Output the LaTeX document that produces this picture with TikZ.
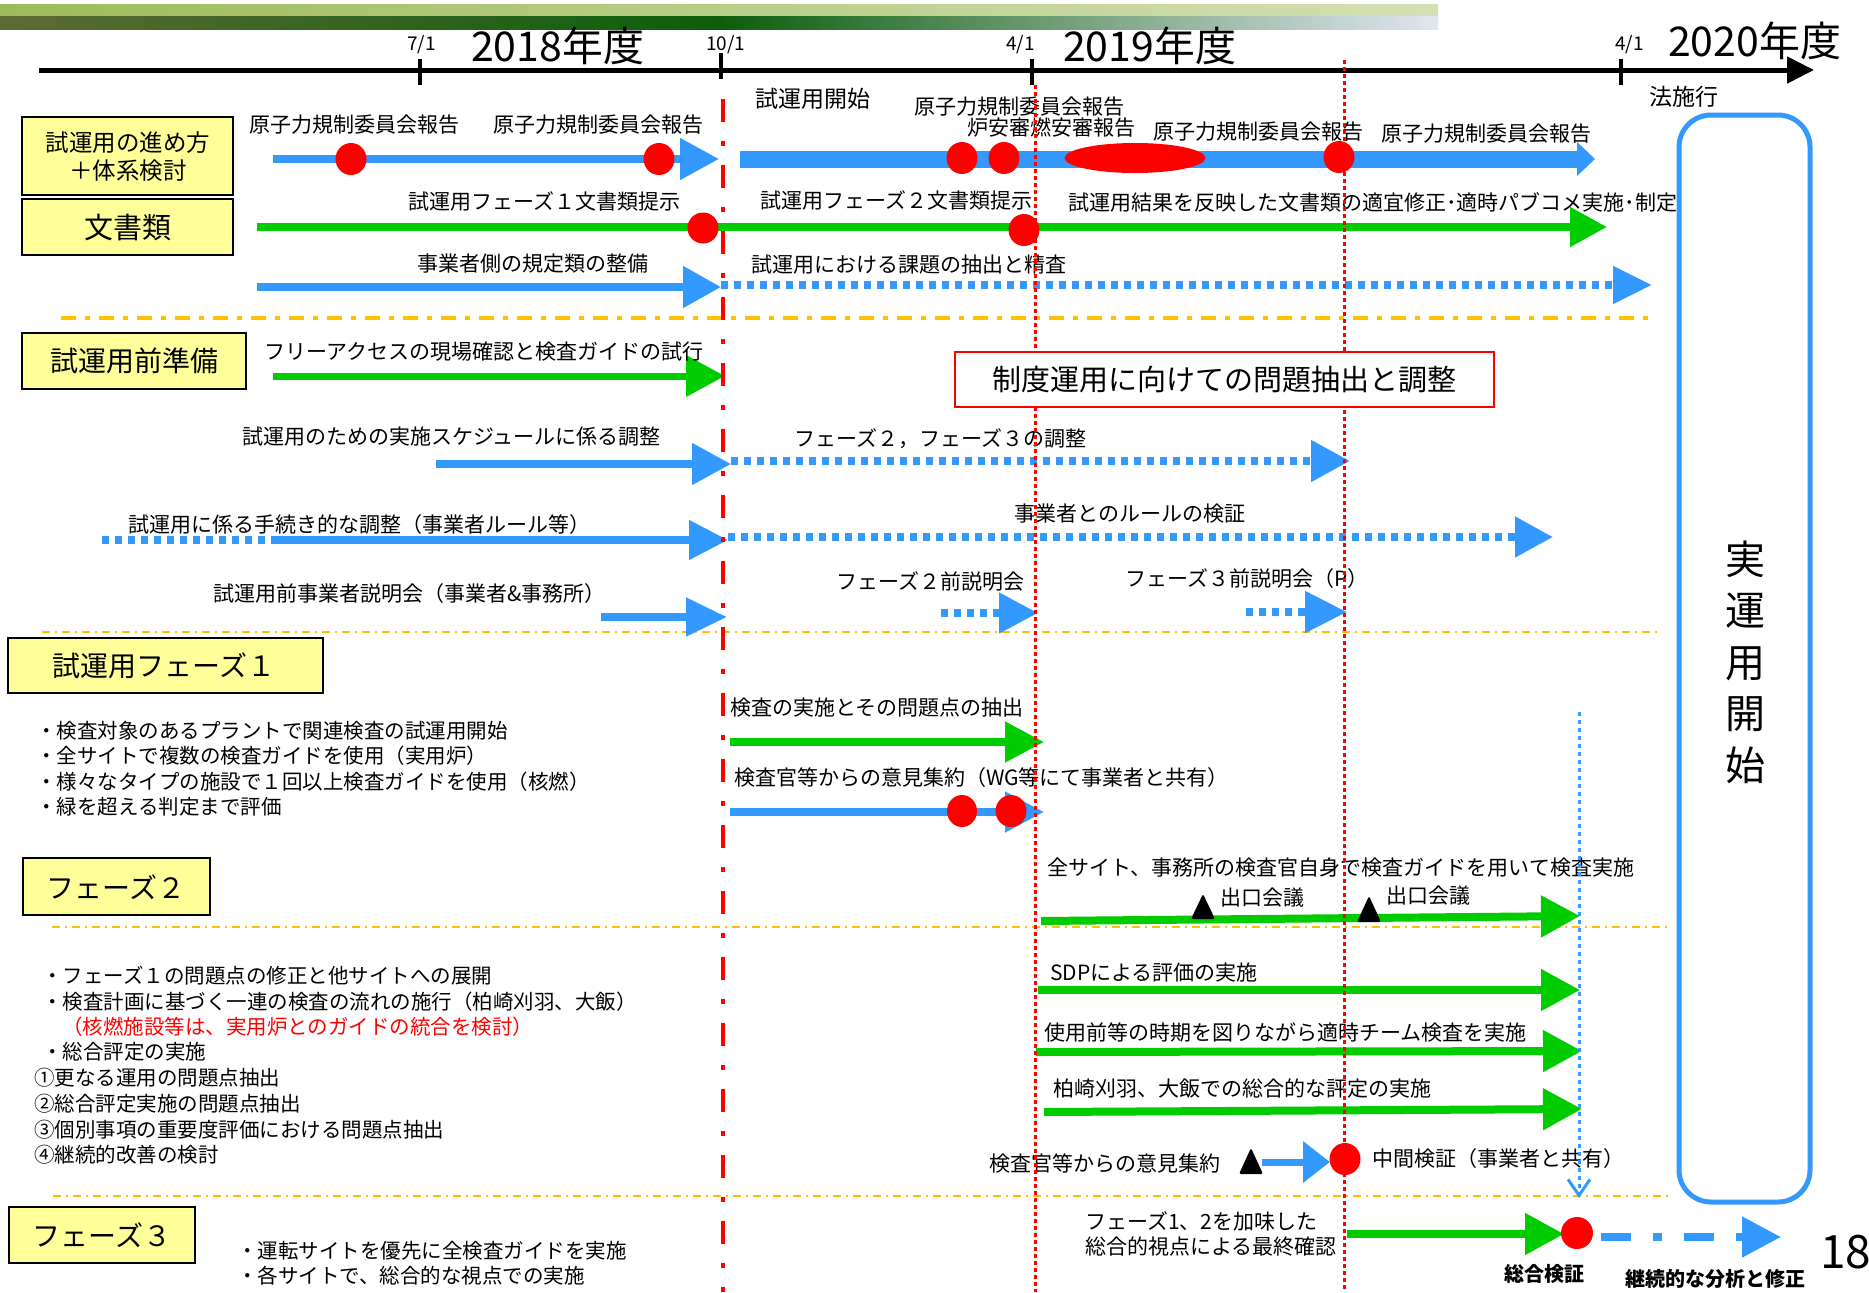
\documentclass[tikz,border=0pt]{standalone}
\usepackage{fontspec}
\setmainfont{Noto Sans CJK JP}
\usetikzlibrary{arrows.meta}
\definecolor{blu}{RGB}{51,153,255}
\definecolor{grn}{RGB}{0,204,0}
\definecolor{rd}{RGB}{255,0,0}
\definecolor{yel}{RGB}{255,255,153}
\definecolor{org}{RGB}{255,192,0}
\definecolor{hta}{RGB}{157,187,90}
\definecolor{htb}{RGB}{212,224,180}
\definecolor{hba}{RGB}{92,107,52}
\definecolor{hbb}{RGB}{12,94,12}
\definecolor{hbc}{RGB}{224,230,240}
\newcommand\fs[1]{\fontsize{#1}{#1}\selectfont}
\begin{document}
\begin{tikzpicture}[x=1pt,y=-1pt,
  lbl/.style={anchor=west,inner sep=0pt,font=\fs{21}},
  clbl/.style={anchor=center,inner sep=0pt,font=\fs{21}},
  tip/.style 2 args={-{Triangle[length=#1,width=#2]}},
  bsh/.style={draw=blu,line width=8pt},
  bdot/.style={draw=blu,line width=8pt,dash pattern=on 7pt off 6pt},
  gsh/.style={draw=grn,line width=8pt},
  ybox/.style={draw=black,line width=1.6pt,fill=yel},
  ytext/.style={anchor=center,inner sep=0pt,font=\fs{28}},
  dot/.style={fill=rd,draw=none},
  sep/.style={draw=org,line width=2pt,dash pattern=on 8pt off 5pt on 2pt off 5pt},
  tick/.style={draw=black,line width=4pt},
  tri/.style={fill=black,rounded corners=2pt}
]
\useasboundingbox (0,0) rectangle (1869,1293);
\fill[white] (0,0) rectangle (1869,1293);
% header bars
\shade[left color=hta,right color=htb] (0,4) rectangle (1438,16);
\shade[left color=hba,right color=hbb] (0,16) rectangle (720,29);
\shade[left color=hbb,right color=hbc] (720,16) rectangle (1438,29);
% timeline
\draw[draw=black,line width=5pt,tip={27pt}{26pt}] (39,70) -- (1814,70);
\draw[tick] (420,59) -- (420,85);
\draw[tick] (721,53) -- (721,79);
\draw[tick] (1032,59) -- (1032,85);
\draw[tick] (1621,59) -- (1621,85);
\node[lbl,font=\fs{19}] (t71) at (407,45) {7/1};
\node[lbl,font=\fs{19}] (t101) at (706,45) {10/1};
\node[lbl,font=\fs{19}] (t41a) at (1006,45) {4/1};
\node[lbl,font=\fs{19}] (t41b) at (1615,45) {4/1};
\node[lbl,font=\fs{41}] (y18) at (471,46) {2018年度};
\node[lbl,font=\fs{41}] (y19) at (1063,46) {2019年度};
\node[lbl,font=\fs{41}] (y20) at (1668,41) {2020年度};
\node[lbl,font=\fs{23}] (hou) at (1649,97) {法施行};
% separators
\draw[draw=org,line width=4pt,dash pattern=on 15pt off 9pt on 5pt off 9pt] (61,318) -- (1649,318);
\draw[sep] (42,632) -- (1661,632);
\draw[sep] (52,927) -- (1670,927);
\draw[sep] (53,1196) -- (1673,1196);
% left boxes
\draw[ybox] (22,117) rectangle (233,195);
\node[anchor=center,inner sep=0pt,align=center,font=\fontsize{23.5}{28}\selectfont] (b1) at (128,157) {試運用の進め方\\＋体系検討};
\draw[ybox] (22,199) rectangle (233,255);
\node[ytext,font=\fs{29}] (b2) at (128,227) {文書類};
\draw[ybox] (22,333) rectangle (246,389);
\node[ytext] (b3) at (134,361) {試運用前準備};
\draw[ybox] (8,638) rectangle (323,693);
\node[ytext] (b4) at (164,666) {試運用フェーズ１};
\draw[ybox] (23,858) rectangle (210,915);
\node[ytext] (b5) at (116,887) {フェーズ２};
\draw[ybox] (9,1207) rectangle (195,1263);
\node[ytext] (b6) at (102,1235) {フェーズ３};
% row 1
\draw[bsh,tip={39pt}{40pt}] (273,159) -- (719,159);
\draw[draw=blu,line width=17pt,tip={18pt}{33pt}] (740,159) -- (1595,159);
\node[lbl] (r1a) at (249,125) {原子力規制委員会報告};
\node[lbl] (r1b) at (493,125) {原子力規制委員会報告};
\node[lbl,font=\fs{23}] (r1c) at (755,99) {試運用開始};
\node[lbl] (r1d) at (914,107) {原子力規制委員会報告};
\node[lbl] (r1e) at (967,128) {炉安審燃安審報告};
\node[lbl] (r1f) at (1153,132) {原子力規制委員会報告};
\node[lbl] (r1g) at (1381,134) {原子力規制委員会報告};
% row 2
\draw[gsh,tip={37pt}{38pt}] (257,227) -- (1607,227);
\node[lbl] (r2a) at (408,201) {試運用フェーズ１文書類提示};
\node[lbl] (r2b) at (760,200) {試運用フェーズ２文書類提示};
\node[lbl] (r2c) at (1068,202) {試運用結果を反映した文書類の適宜修正･適時パブコメ実施･制定};
% row 3
\draw[bsh,tip={38pt}{40pt}] (257,287) -- (721,287);
\draw[bdot,tip={39pt}{36pt}] (721,285) -- (1652,285);
\node[lbl] (r3a) at (417,264) {事業者側の規定類の整備};
\node[lbl] (r3b) at (751,265) {試運用における課題の抽出と精査};
% preparation
\draw[gsh,line width=7pt,tip={39pt}{40pt}] (273,376) -- (725,376);
\node[lbl] (p1) at (264,352) {フリーアクセスの現場確認と検査ガイドの試行};
\draw[bsh,tip={39pt}{40pt}] (436,464) -- (731,464);
\draw[bdot,tip={39pt}{40pt}] (731,461) -- (1350,461);
\node[lbl] (p2) at (242,437) {試運用のための実施スケジュールに係る調整};
\node[lbl] (p3) at (794,439) {フェーズ２，フェーズ３の調整};
\draw[bdot] (102,540) -- (273,540);
\draw[bsh,tip={39pt}{38pt}] (273,540) -- (728,540);
\draw[bdot,tip={38pt}{39pt}] (728,537) -- (1553,537);
\node[lbl] (p4) at (128,525) {試運用に係る手続き的な調整（事業者ルール等）};
\node[lbl] (p5) at (1014,514) {事業者とのルールの検証};
\draw[bsh,tip={41pt}{37pt}] (601,617) -- (727,617);
\draw[bdot,tip={39pt}{39pt}] (941,613) -- (1038,613);
\draw[bdot,tip={42pt}{40pt}] (1246,612) -- (1347,612);
\node[lbl] (p6) at (213,594) {試運用前事業者説明会（事業者\&事務所）};
\node[lbl] (p7) at (836,581) {フェーズ２前説明会};
\node[lbl] (p8) at (1125,579) {フェーズ３前説明会（P）};
% phase 1
\node[lbl,font=\fs{20.5}] (l1a) at (36,731) {・検査対象のあるプラントで関連検査の試運用開始};
\node[lbl,font=\fs{20.5}] (l1b) at (36,756) {・全サイトで複数の検査ガイドを使用（実用炉）};
\node[lbl,font=\fs{20.5}] (l1c) at (36,782) {・様々なタイプの施設で１回以上検査ガイドを使用（核燃）};
\node[lbl,font=\fs{20.5}] (l1d) at (36,807) {・緑を超える判定まで評価};
\draw[gsh,tip={39pt}{39pt}] (730,742) -- (1044,742);
\draw[bsh,tip={39pt}{39pt}] (730,812) -- (1044,812);
\node[lbl] (f1a) at (730,708) {検査の実施とその問題点の抽出};
\node[lbl] (f1b) at (734,778) {検査官等からの意見集約（WG等にて事業者と共有）};
% phase 2
\node[lbl,font=\fs{20.5}] (l2a) at (42,976) {・フェーズ１の問題点の修正と他サイトへの展開};
\node[lbl,font=\fs{20.5}] (l2b) at (42,1002) {・検査計画に基づく一連の検査の流れの施行（柏崎刈羽、大飯）};
\node[lbl,font=\fs{20.5},text=rd] (l2c) at (62,1027) {（核燃施設等は、実用炉とのガイドの統合を検討）};
\node[lbl,font=\fs{20.5}] (l2d) at (42,1052) {・総合評定の実施};
\node[lbl,font=\fs{20.5}] (l2e) at (34,1078) {①更なる運用の問題点抽出};
\node[lbl,font=\fs{20.5}] (l2f) at (34,1104) {②総合評定実施の問題点抽出};
\node[lbl,font=\fs{20.5}] (l2g) at (34,1130) {③個別事項の重要度評価における問題点抽出};
\node[lbl,font=\fs{20.5}] (l2h) at (34,1155) {④継続的改善の検討};
\draw[gsh,tip={39pt}{40pt}] (1041,921) -- (1580,916);
\draw[gsh,tip={39pt}{40pt}] (1038,990) -- (1580,990);
\draw[gsh,tip={39pt}{40pt}] (1036,1052) -- (1582,1051);
\draw[gsh,tip={39pt}{40pt}] (1044,1112) -- (1582,1109);
\node[lbl] (f2a) at (1047,868) {全サイト、事務所の検査官自身で検査ガイドを用いて検査実施};
\node[lbl] (f2b) at (1220,898) {出口会議};
\node[lbl] (f2c) at (1386,896) {出口会議};
\node[lbl] (f2d) at (1050,973) {SDPによる評価の実施};
\node[lbl] (f2e) at (1044,1032) {使用前等の時期を図りながら適時チーム検査を実施};
\node[lbl] (f2f) at (1053,1089) {柏崎刈羽、大飯での総合的な評定の実施};
\fill[tri] (1191,919) -- (1203,894) -- (1215,919) -- cycle;
\fill[tri] (1357,922) -- (1369,896) -- (1381,922) -- cycle;
\fill[tri] (1239,1174) -- (1251,1148) -- (1263,1174) -- cycle;
\draw[bsh,line width=7pt,tip={27pt}{40pt}] (1262,1162) -- (1330,1162);
\node[lbl] (f2g) at (989,1164) {検査官等からの意見集約};
\node[lbl] (f2h) at (1372,1159) {中間検証（事業者と共有）};
% phase 3
\node[lbl,font=\fs{20.5}] (l3a) at (237,1251) {・運転サイトを優先に全検査ガイドを実施};
\node[lbl,font=\fs{20.5}] (l3b) at (237,1276) {・各サイトで、総合的な視点での実施};
\node[lbl] (f3a) at (1085,1221) {フェーズ1、2を加味した};
\node[lbl] (f3b) at (1085,1247) {総合的視点による最終確認};
\draw[gsh,tip={39pt}{40pt}] (1347,1234) -- (1564,1234);
\draw[draw=blu,line width=8pt,dash pattern=on 30pt off 22pt on 9pt off 22pt,tip={39pt}{39pt}] (1601,1237) -- (1781,1237);
\node[lbl,font=\bfseries\fs{20}] (f3c) at (1504,1274) {総合検証};
\node[lbl,font=\bfseries\fs{20}] (f3d) at (1625,1279) {継続的な分析と修正};
\node[lbl,font=\fs{46}] (pg) at (1820,1252) {18};
% red dots
\fill[dot] (351,159) ellipse (15.5 and 16);
\fill[dot] (659,159) ellipse (15.5 and 16);
\fill[dot] (962,158) ellipse (15.5 and 16);
\fill[dot] (1004,158) ellipse (15.5 and 16);
\fill[dot] (1135,158) ellipse (70.5 and 15);
\fill[dot] (1339,157) ellipse (15.5 and 16);
\fill[dot] (703,228) ellipse (15.5 and 15.5);
\fill[dot] (1024,230) ellipse (15.5 and 16);
\fill[dot] (962,811) ellipse (15 and 16);
\fill[dot] (1011,811) ellipse (15.5 and 16);
\fill[dot] (1345,1159) ellipse (15.5 and 16);
\fill[dot] (1577,1233) ellipse (16 and 16);
% vertical lines
\draw[draw=rd,line width=4.5pt,dash pattern=on 23pt off 19pt on 5pt off 19pt] (723,99) -- (723,1292);
\draw[draw=rd,line width=3pt,dash pattern=on 3.5pt off 3.5pt] (1035,85) -- (1035,1292);
\draw[draw=rd,line width=3pt,dash pattern=on 3.5pt off 3.5pt] (1344,60) -- (1344,1292);
\draw[draw=blu,line width=3pt,dash pattern=on 4pt off 4pt,-{Straight Barb[length=16pt,width=22pt]}] (1579,712) -- (1579,1198);
% red box
\draw[draw=rd,line width=2pt,fill=white] (955,352) rectangle (1494,407);
\node[clbl,font=\fs{29}] (rbox) at (1224,380) {制度運用に向けての問題抽出と調整};
% big rounded rect
\draw[draw=blu,line width=5pt,rounded corners=32pt] (1679,115) rectangle (1810,1202);
\node[anchor=center,inner sep=0pt,align=center,font=\fontsize{40}{51.5}\selectfont] (jitsu) at (1745,662) {実\\運\\用\\開\\始};
\end{tikzpicture}
\end{document}
